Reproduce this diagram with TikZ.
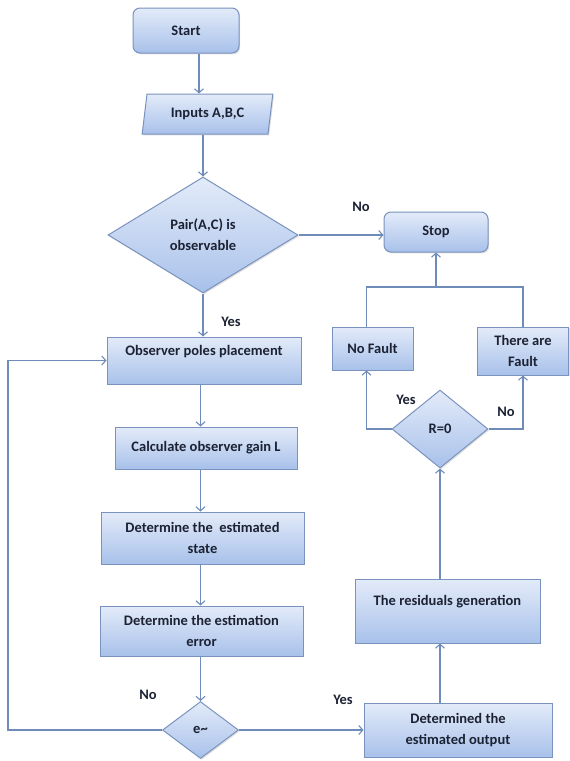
\documentclass[tikz,border=0pt]{standalone}
\usepackage{fontspec}
\setmainfont{Carlito}
\usetikzlibrary{arrows.meta,positioning,shapes.geometric,shadows}
\definecolor{boxedge}{HTML}{7A93BE}
\definecolor{boxtop}{HTML}{E3EBF9}
\definecolor{boxbot}{HTML}{A8C1EA}
\definecolor{linkcol}{HTML}{6F8CB9}
\definecolor{txtcol}{HTML}{1C2233}
\newcommand{\fsz}{\fontsize{14.5}{21}\selectfont}
\tikzset{
  base/.style = {draw=boxedge,line width=1pt,top color=boxtop,bottom color=boxbot,
                 text=txtcol,align=center,inner sep=0pt,font=\bfseries\fsz,
                 drop shadow={opacity=0.25,shadow xshift=1.2pt,shadow yshift=-1.4pt}},
  box/.style  = {base,rectangle},
  term/.style = {base,rectangle,rounded corners=7pt},
  io/.style   = {base,trapezium,trapezium left angle=76,trapezium right angle=104,
                 trapezium stretches=true},
  cond/.style = {base,diamond},
  link/.style = {draw=linkcol,line width=1.1pt},
  arr/.style  = {link,-{Straight Barb[length=4pt,width=9pt]}},
  lbl/.style  = {font=\bfseries\fsz,text=txtcol,inner sep=0pt},
}

\begin{document}
\begin{tikzpicture}[x=1pt,y=-1pt]
  \useasboundingbox (0,0) rectangle (570,761);

  % main column
  \node[term,minimum width=106pt,minimum height=45pt] (start) at (186,30.5) {Start};
  \node[io,minimum width=131pt,minimum height=40pt] (inputs) at (207.5,114) {Inputs A,B,C};
  \node[cond,minimum width=190pt,minimum height=116pt] (pair) at (203,235) {Pair(A,C) is\\observable};
  \node[box,minimum width=194pt,minimum height=47pt] (poles) at (204,360.5) {Observer poles placement\\\mbox{}};
  \node[box,minimum width=182pt,minimum height=42pt] (gain) at (206,448) {Calculate observer gain L};
  \node[box,minimum width=203pt,minimum height=52pt] (state) at (202.5,538) {Determine the\ \ estimated\\state};
  \node[box,minimum width=203pt,minimum height=50pt] (err) at (201.5,631) {Determine the estimation\\error};
  \node[cond,minimum width=76pt,minimum height=57pt] (echk) at (200.5,730) {e\textasciitilde};

  % right column
  \node[box,minimum width=188pt,minimum height=54pt] (output) at (458,730) {Determined the\\estimated output};
  \node[box,minimum width=185pt,minimum height=64pt] (resid) at (447.5,611) {The residuals generation\\\mbox{}};
  \node[cond,minimum width=96pt,minimum height=78pt] (rzero) at (440,429) {R=0};
  \node[box,minimum width=81pt,minimum height=43pt] (nofault) at (372.5,348.5) {No Fault};
  \node[box,minimum width=91pt,minimum height=48pt] (fault) at (523,351) {There are\\Fault};
  \node[term,minimum width=104pt,minimum height=40pt] (stop) at (436,232) {Stop};

  % connectors
  \draw[arr] ([xshift=13pt]start.south) -- ([xshift=13pt]start.south |- inputs.north);
  \draw[arr] (pair.north |- inputs.south) -- (pair.north);
  \draw[arr] (pair.south) -- (pair.south |- poles.north);
  \foreach \a/\b in {poles/gain,gain/state,state/err,err/echk}
     \draw[arr] (\a.south -| echk.north) -- (\b.north -| echk.north);
  \draw[arr] (pair.east) -- (pair.east -| stop.west);
  \draw[arr] (echk.east) -- (output.west);
  \coordinate (back) at (8,360.5);
  \draw[arr] (echk.west) -| (back) -- (poles.west);
  \draw[arr] (output.north -| rzero.south) -- (resid.south -| rzero.south);
  \draw[arr] (resid.north -| rzero.south) -- (rzero.south);
  \draw[arr] (rzero.west) -| ([xshift=-6pt]nofault.south);
  \draw[arr] (rzero.east) -| (fault.south);
  \coordinate (join) at (436,287);
  \draw[link] ([xshift=-6pt]nofault.north) |- (join) -| (fault.north);
  \draw[arr] (join) -- (stop.south);

  % branch labels
  \node[lbl] (yobs) at (231,322) {Yes};
  \node[lbl] (nobs) at (361,207) {No};
  \node[lbl] (yres) at (406,400) {Yes};
  \node[lbl] (nres) at (506,412) {No};
  \node[lbl] (nerr) at (148,695) {No};
  \node[lbl] (yerr) at (343,700) {Yes};
\end{tikzpicture}
\end{document}
